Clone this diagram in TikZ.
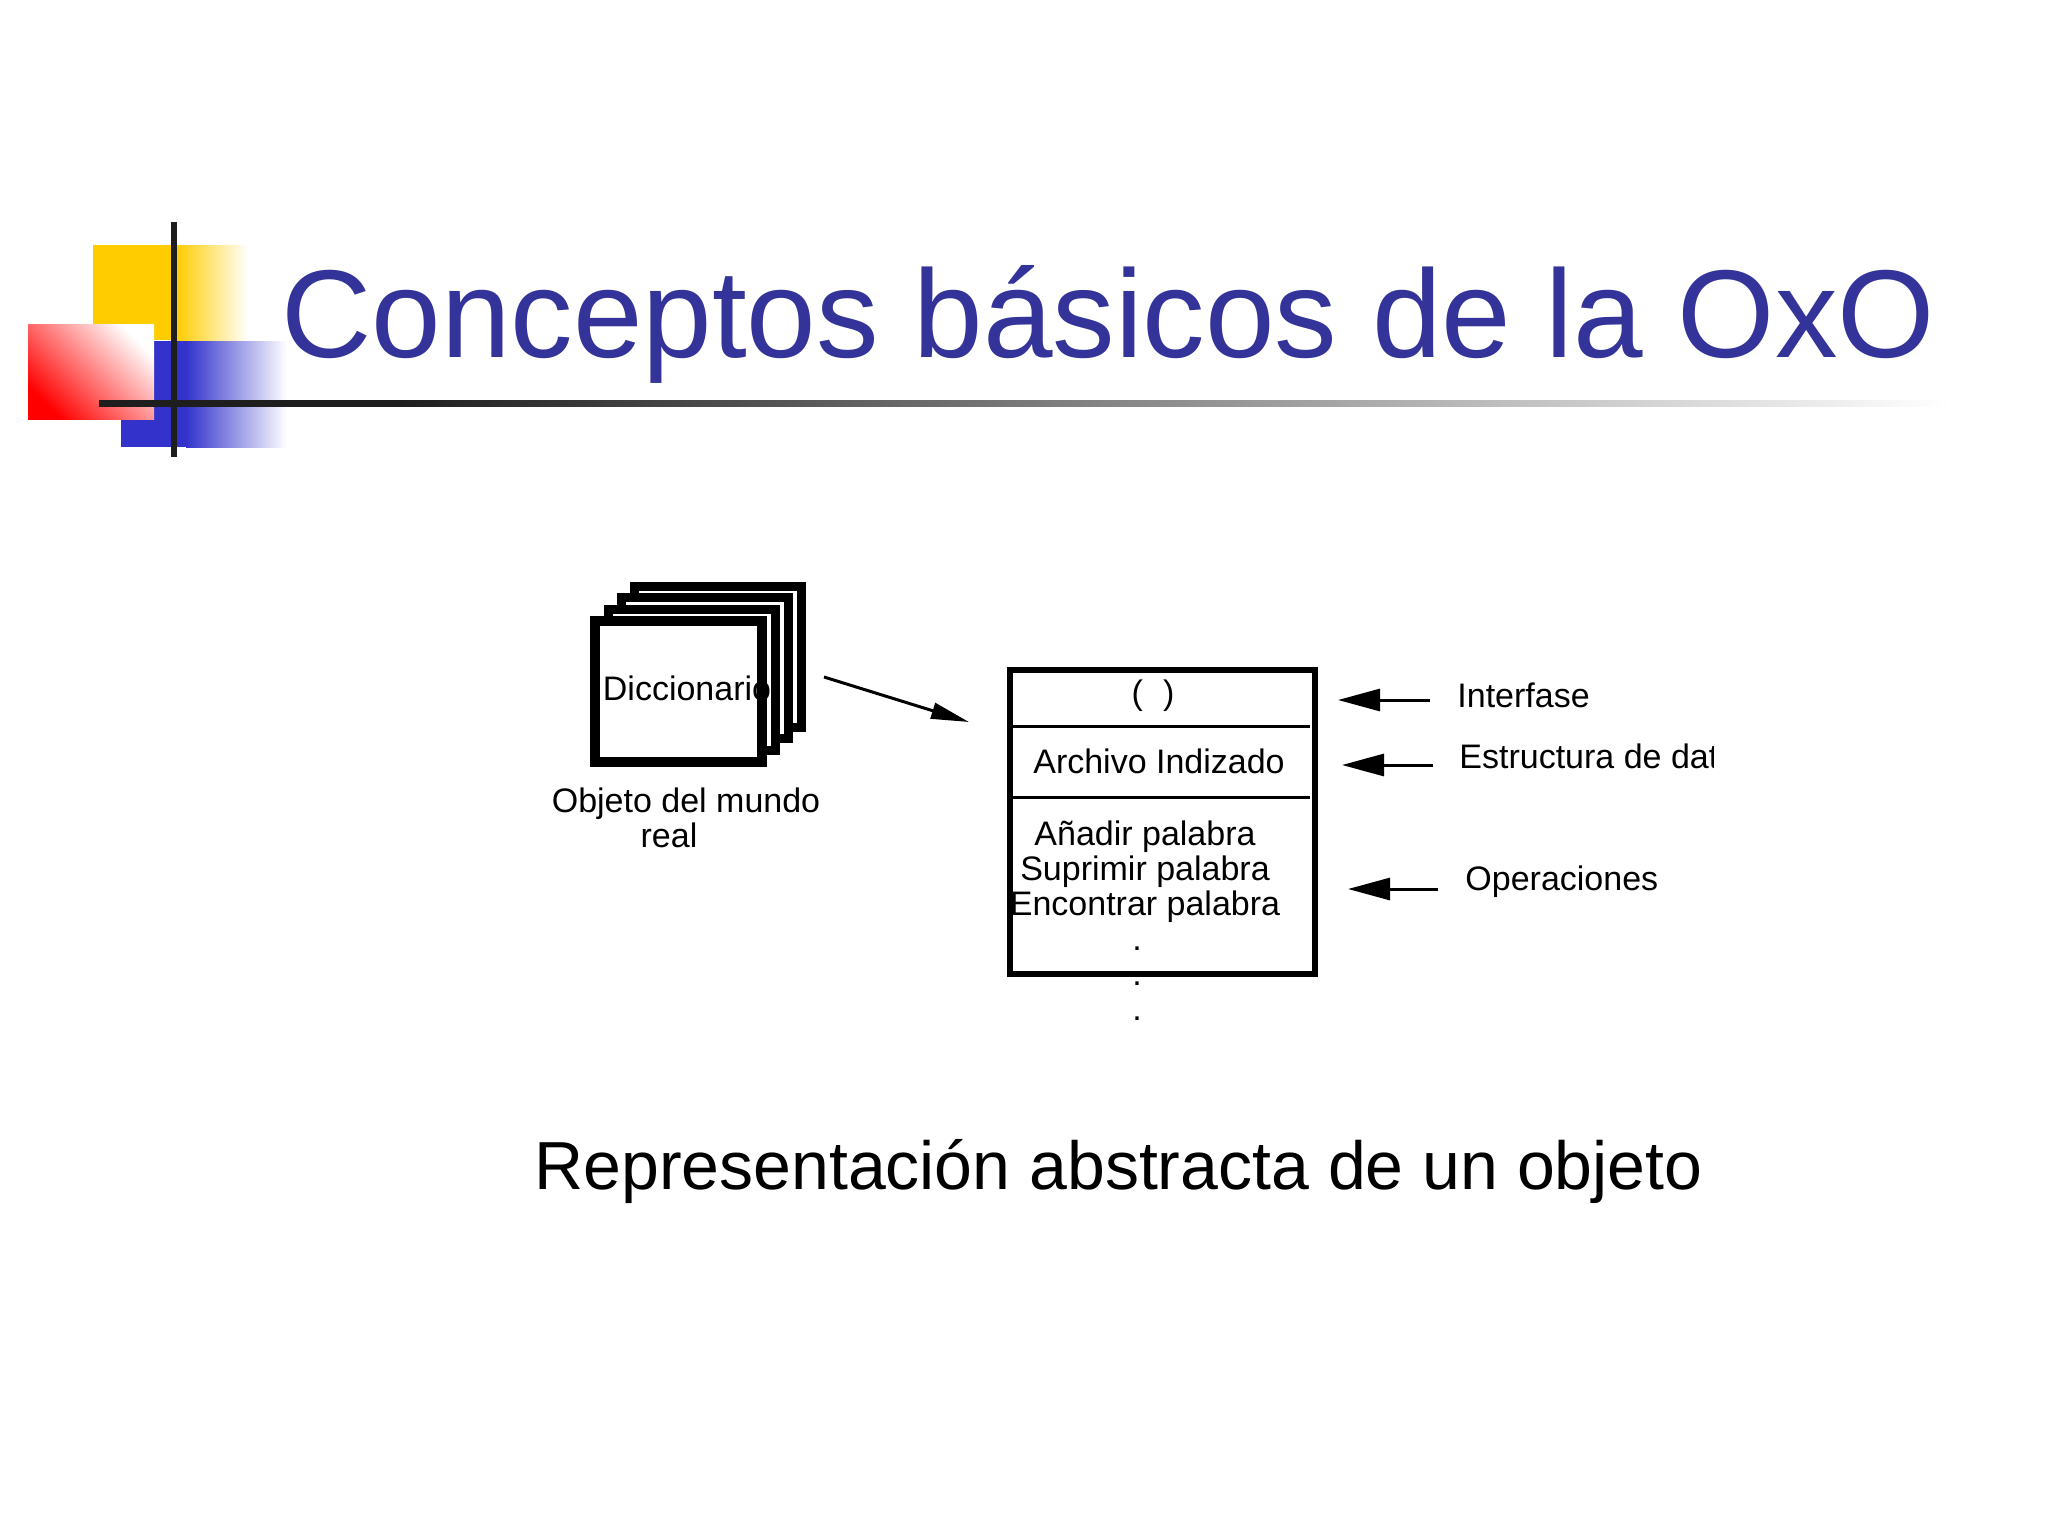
\documentclass[tikz,border=0pt]{standalone}
\usepackage{fontspec}
\setmainfont{Liberation Sans}
\usetikzlibrary{arrows.meta}
\definecolor{titleblue}{RGB}{51,51,153}
\definecolor{logoyellow}{RGB}{255,204,0}
\definecolor{logoblue}{RGB}{51,51,204}
\definecolor{logored}{RGB}{255,0,0}
\definecolor{rulegray}{RGB}{30,30,30}
\begin{document}
\begin{tikzpicture}[x=0.5pt,y=-0.5pt,
  txt/.style={font=\fontsize{17}{17.5}\selectfont, inner sep=0pt},
  sheet/.style={draw=black, fill=white, line width=4.5pt},
  ptr/.style={line width=1.5pt, -{Triangle[length=21pt,width=11pt]}},
  ptrsmall/.style={line width=1.5pt, -{Triangle[length=19pt,width=8pt]}},
]
\useasboundingbox[fill=white] (0,0) rectangle (2048,1536);
% logo
\fill[logoyellow] (93,245) rectangle (177,340);
\shade[left color=logoyellow, right color=white] (176,245) rectangle (248,340);
\fill[logoblue] (121,341) rectangle (187,447);
\shade[left color=logoblue, right color=white] (186,341) rectangle (287,447);
\shade[top color=white, bottom color=logored, shading angle=-45] (28,324) rectangle (154,419);
\draw[line width=3pt, rulegray] (174,222) -- (174,457);
\fill[rulegray] (99,400) rectangle (400,406.5);
\shade[left color=rulegray, middle color=black!45, right color=white] (399,400) rectangle (1950,406.5);
% title
\node[anchor=base west, inner sep=0pt, text=titleblue, font=\fontsize{62.5}{70}\selectfont] (title) at (281,357) {Conceptos básicos de la OxO};
% stack of sheets
\draw[sheet] (634,586) rectangle (801,727);
\draw[sheet] (621,597.6) rectangle (788,738.6);
\draw[sheet] (608,609.3) rectangle (775,750.3);
\draw[sheet, line width=5pt] (595,621) rectangle (762,762);
\node[txt, anchor=base] (dict) at (687,700) {Diccionario};
\node[txt, anchor=base, align=center] (real) at (686,847) {Objeto del mundo\\\mbox{real\hspace{1em}}};
% abstract data type box
\node[draw, line width=3pt, minimum width=152.5pt, minimum height=152pt, inner sep=0pt] (adt) at (1162.5,822) {};
\draw[line width=1.5pt] (1010,726) -- (1310,726);
\draw[line width=1.5pt] (1010,797) -- (1310,797);
\node[txt] (parens) at (1153,696) {(\hspace{10pt})};
\node[txt, anchor=base] (dstruct) at (1159,773) {Archivo Indizado};
\node[txt, anchor=base, align=center] (ops) at (1145,1020) {Añadir palabra\\Suprimir palabra\\Encontrar palabra\\\mbox{.\hspace{8pt}}\\\mbox{.\hspace{8pt}}\\\mbox{.\hspace{8pt}}};
% labels
\node[txt, anchor=base west] (lint) at (1457,707) {Interfase};
\begin{scope}
\clip (1440,700) rectangle (1713,800);
\node[txt, anchor=base west] (lest) at (1459,768) {Estructura de dat};
\end{scope}
\node[txt, anchor=base west] (lops) at (1465,890) {Operaciones};
% arrows
\coordinate (a1t) at (1430,700); \coordinate (a1h) at (1338,700);
\coordinate (a2t) at (1433,765); \coordinate (a2h) at (1342,765);
\coordinate (a3t) at (1438,889); \coordinate (a3h) at (1348,889);
\coordinate (s1) at (824,677); \coordinate (s2) at (969,722);
\draw[ptr] (a1t) -- (a1h);
\draw[ptr] (a2t) -- (a2h);
\draw[ptr] (a3t) -- (a3h);
\draw[ptrsmall] (s1) -- (s2);
% caption
\node[anchor=base west, inner sep=0pt, font=\fontsize{34}{40}\selectfont] (caption) at (534,1189) {Representación abstracta de un objeto};
\end{tikzpicture}
\end{document}
